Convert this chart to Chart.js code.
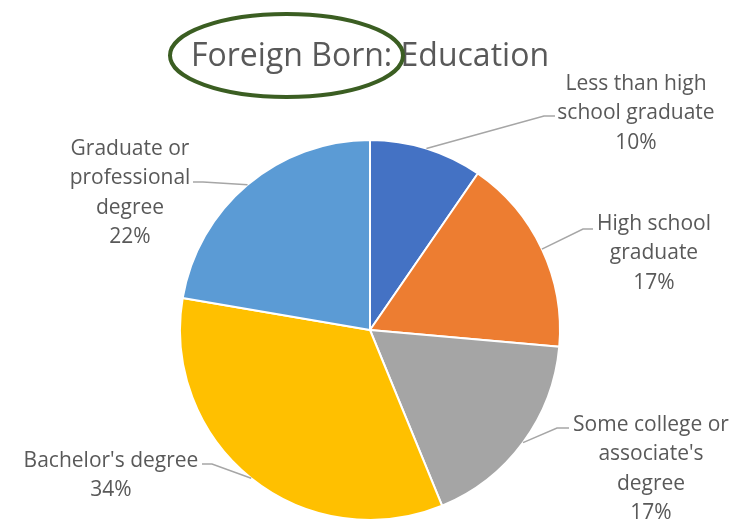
<!DOCTYPE html>
<html>
<head>
<meta charset="utf-8">
<script src="https://cdn.jsdelivr.net/npm/chart.js@4"></script>
<style>
  html, body { margin: 0; padding: 0; background: #fff; }
  #wrap { width: 743px; height: 521px; position: relative; }
</style>
</head>
<body>
<div id="wrap"><canvas id="chart"></canvas></div>
<script>
// Data
const categories = [
  ['Less than high', 'school graduate'],
  ['High school', 'graduate'],
  ['Some college or', "associate's", 'degree'],
  ["Bachelor's degree"],
  ['Graduate or', 'professional', 'degree']
];
const shares = [9.6, 16.8, 17.4, 33.9, 22.3];
const colors = ['#4472C4', '#ED7D31', '#A5A5A5', '#FFC000', '#5B9BD5'];
const titleText = 'Foreign Born: Education';

// Label layout: text centre x, first line centre y, leader elbow and end
const labelLayout = [
  { cx: 636, y: 84,  elbow: [544, 116], end: [555, 116] },
  { cx: 654, y: 224, elbow: [583, 229], end: [593, 229] },
  { cx: 651, y: 425, elbow: [557, 428], end: [569, 428] },
  { cx: 111, y: 461, elbow: [212, 464], end: [202, 464] },
  { cx: 130, y: 149, elbow: [203, 182], end: [193, 182] }
];

const textColor = '#595959';
const fontFamily = '"Open Sans", Lato, sans-serif';

const labelsPlugin = {
  id: 'excelLabels',
  afterDraw(chart) {
    const ctx = chart.ctx;
    const meta = chart.getDatasetMeta(0);
    ctx.save();

    // title
    ctx.fillStyle = textColor;
    ctx.font = '32px ' + fontFamily;
    ctx.textAlign = 'center';
    ctx.textBaseline = 'middle';
    ctx.fillText(titleText, 370, 57);

    // ellipse drawn around part of the title
    ctx.strokeStyle = '#3B5E22';
    ctx.lineWidth = 4;
    ctx.beginPath();
    ctx.ellipse(286.5, 55.5, 116.5, 41.5, 0, 0, Math.PI * 2);
    ctx.stroke();

    // data labels with leader lines
    ctx.font = '21px ' + fontFamily;
    meta.data.forEach((arc, i) => {
      const lay = labelLayout[i];
      const p = arc.getProps(['x', 'y', 'startAngle', 'endAngle', 'outerRadius'], true);
      const mid = (p.startAngle + p.endAngle) / 2;
      const sx = p.x + Math.cos(mid) * p.outerRadius;
      const sy = p.y + Math.sin(mid) * p.outerRadius;

      ctx.strokeStyle = '#A6A6A6';
      ctx.lineWidth = 1.5;
      ctx.beginPath();
      ctx.moveTo(sx, sy);
      ctx.lineTo(lay.elbow[0], lay.elbow[1]);
      ctx.lineTo(lay.end[0], lay.end[1]);
      ctx.stroke();

      const lines = categories[i].concat([Math.round(shares[i]) + '%']);
      ctx.fillStyle = textColor;
      lines.forEach((line, j) => {
        ctx.fillText(line, lay.cx, lay.y + j * 29.5);
      });
    });
    ctx.restore();
  }
};

new Chart(document.getElementById('chart').getContext('2d'), {
  type: 'pie',
  data: {
    labels: categories.map(c => c.join(' ')),
    datasets: [{
      data: shares,
      backgroundColor: colors,
      borderColor: '#ffffff',
      borderWidth: 2
    }]
  },
  options: {
    responsive: true,
    maintainAspectRatio: false,
    animation: false,
    layout: { padding: { top: 139, left: 179, right: 182, bottom: 0 } },
    plugins: {
      legend: { display: false },
      tooltip: { enabled: false },
      title: { display: false }
    }
  },
  plugins: [labelsPlugin]
});
</script>
</body>
</html>
